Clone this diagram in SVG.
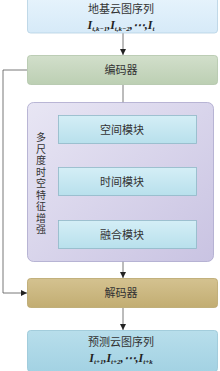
<svg xmlns="http://www.w3.org/2000/svg" width="220" height="371" viewBox="0 0 220 371">
<defs>
<linearGradient id="gTop" x1="0" y1="0" x2="0" y2="1"><stop offset="0" stop-color="#e6f3fc"/><stop offset="1" stop-color="#d6eaf8"/></linearGradient>
<linearGradient id="gEnc" x1="0" y1="0" x2="0" y2="1"><stop offset="0" stop-color="#d2dfcb"/><stop offset="1" stop-color="#bccfb3"/></linearGradient>
<linearGradient id="gCont" x1="0" y1="0" x2="1" y2="1"><stop offset="0" stop-color="#e8e6f4"/><stop offset="1" stop-color="#c9c3e2"/></linearGradient>
<linearGradient id="gIn" x1="0" y1="0" x2="0" y2="1"><stop offset="0" stop-color="#d4eef6"/><stop offset="1" stop-color="#b8e0ec"/></linearGradient>
<linearGradient id="gDec" x1="0" y1="0" x2="0" y2="1"><stop offset="0" stop-color="#d4c290"/><stop offset="1" stop-color="#c2ad72"/></linearGradient>
<linearGradient id="gBot" x1="0" y1="0" x2="0" y2="1"><stop offset="0" stop-color="#b8deeb"/><stop offset="1" stop-color="#a3d2e3"/></linearGradient>
<marker id="arr" viewBox="0 0 10 10" refX="10" refY="5" markerUnits="userSpaceOnUse" markerWidth="6" markerHeight="6" orient="auto"><path d="M0,0 L10,5 L0,10 z" fill="#222"/></marker>
</defs>
<style>
.t{font-family:"Liberation Serif","Noto Sans CJK SC",serif;font-size:11px;fill:#333;text-anchor:middle}
.v{font-family:"Liberation Serif","Noto Sans CJK SC",serif;font-size:10px;fill:#333;text-anchor:middle}
.f{font-family:"Liberation Serif",serif;font-size:12px;font-weight:bold;font-style:italic;fill:#222;text-anchor:middle}
.c{stroke:#555;stroke-width:0.8;fill:none}
.b{stroke-width:0.8}
</style>
<g id="connectors">
<line class="c" x1="123" y1="33" x2="123" y2="55" marker-end="url(#arr)"/>
<line class="c" x1="123" y1="85" x2="123" y2="115" marker-end="url(#arr)"/>
<line class="c" x1="123" y1="144" x2="123" y2="167" marker-end="url(#arr)"/>
<line class="c" x1="123" y1="196" x2="123" y2="220" marker-end="url(#arr)"/>
<line class="c" x1="123" y1="249" x2="123" y2="278" marker-end="url(#arr)"/>
<line class="c" x1="123" y1="308" x2="123" y2="330" marker-end="url(#arr)"/>
<polyline class="c" points="27,70 3,70 3,293 27,293" stroke="#222" marker-end="url(#arr)"/>
</g>
<g id="input">
<rect class="b" x="27.5" y="-3" width="190" height="36" rx="3" fill="url(#gTop)" stroke="#b4d0e2"/>
<text class="t" x="121" y="13">地基云图序列</text>
<text class="f" x="121" y="29">I<tspan font-size="7" dy="2">t,k−1</tspan><tspan dy="-2">,I</tspan><tspan font-size="7" dy="2">t,k−2</tspan><tspan dy="-2">,⋯,I</tspan><tspan font-size="7" dy="2">t</tspan></text>
</g>
<g id="encoder">
<rect class="b" x="27.5" y="55.5" width="190" height="29" rx="3" fill="url(#gEnc)" stroke="#b0c4a8"/>
<text class="t" x="121" y="74">编码器</text>
</g>
<g id="enhance">
<rect class="b" x="27.5" y="102.5" width="186" height="159" rx="6" fill="url(#gCont)" stroke="#aaa6cc"/>
<text class="v" x="41" y="141">多</text>
<text class="v" x="41" y="152.5">尺</text>
<text class="v" x="41" y="164">度</text>
<text class="v" x="41" y="175.5">时</text>
<text class="v" x="41" y="187">空</text>
<text class="v" x="41" y="198.5">特</text>
<text class="v" x="41" y="210">征</text>
<text class="v" x="41" y="221.5">增</text>
<text class="v" x="41" y="233">强</text>
</g>
<g id="spatial">
<rect class="b" x="58.5" y="115.5" width="138" height="28" fill="url(#gIn)" stroke="#8fb8c8"/>
<text class="t" x="122" y="133.5">空间模块</text>
</g>
<g id="temporal">
<rect class="b" x="58.5" y="167.5" width="138" height="28" fill="url(#gIn)" stroke="#8fb8c8"/>
<text class="t" x="122" y="185.5">时间模块</text>
</g>
<g id="fusion">
<rect class="b" x="58.5" y="220.5" width="138" height="28" fill="url(#gIn)" stroke="#8fb8c8"/>
<text class="t" x="122" y="238.5">融合模块</text>
</g>
<g id="decoder">
<rect class="b" x="27.5" y="278.5" width="190" height="29" rx="3" fill="url(#gDec)" stroke="#b8a46a"/>
<text class="t" x="121" y="297">解码器</text>
</g>
<g id="output">
<rect class="b" x="27.5" y="330.5" width="190" height="41" rx="3" fill="url(#gBot)" stroke="#94c4d6"/>
<text class="t" x="121" y="346">预测云图序列</text>
<text class="f" x="121" y="362">I<tspan font-size="7" dy="2">t+1</tspan><tspan dy="-2">,I</tspan><tspan font-size="7" dy="2">t+2</tspan><tspan dy="-2">,⋯,I</tspan><tspan font-size="7" dy="2">t+k</tspan></text>
</g>
</svg>
